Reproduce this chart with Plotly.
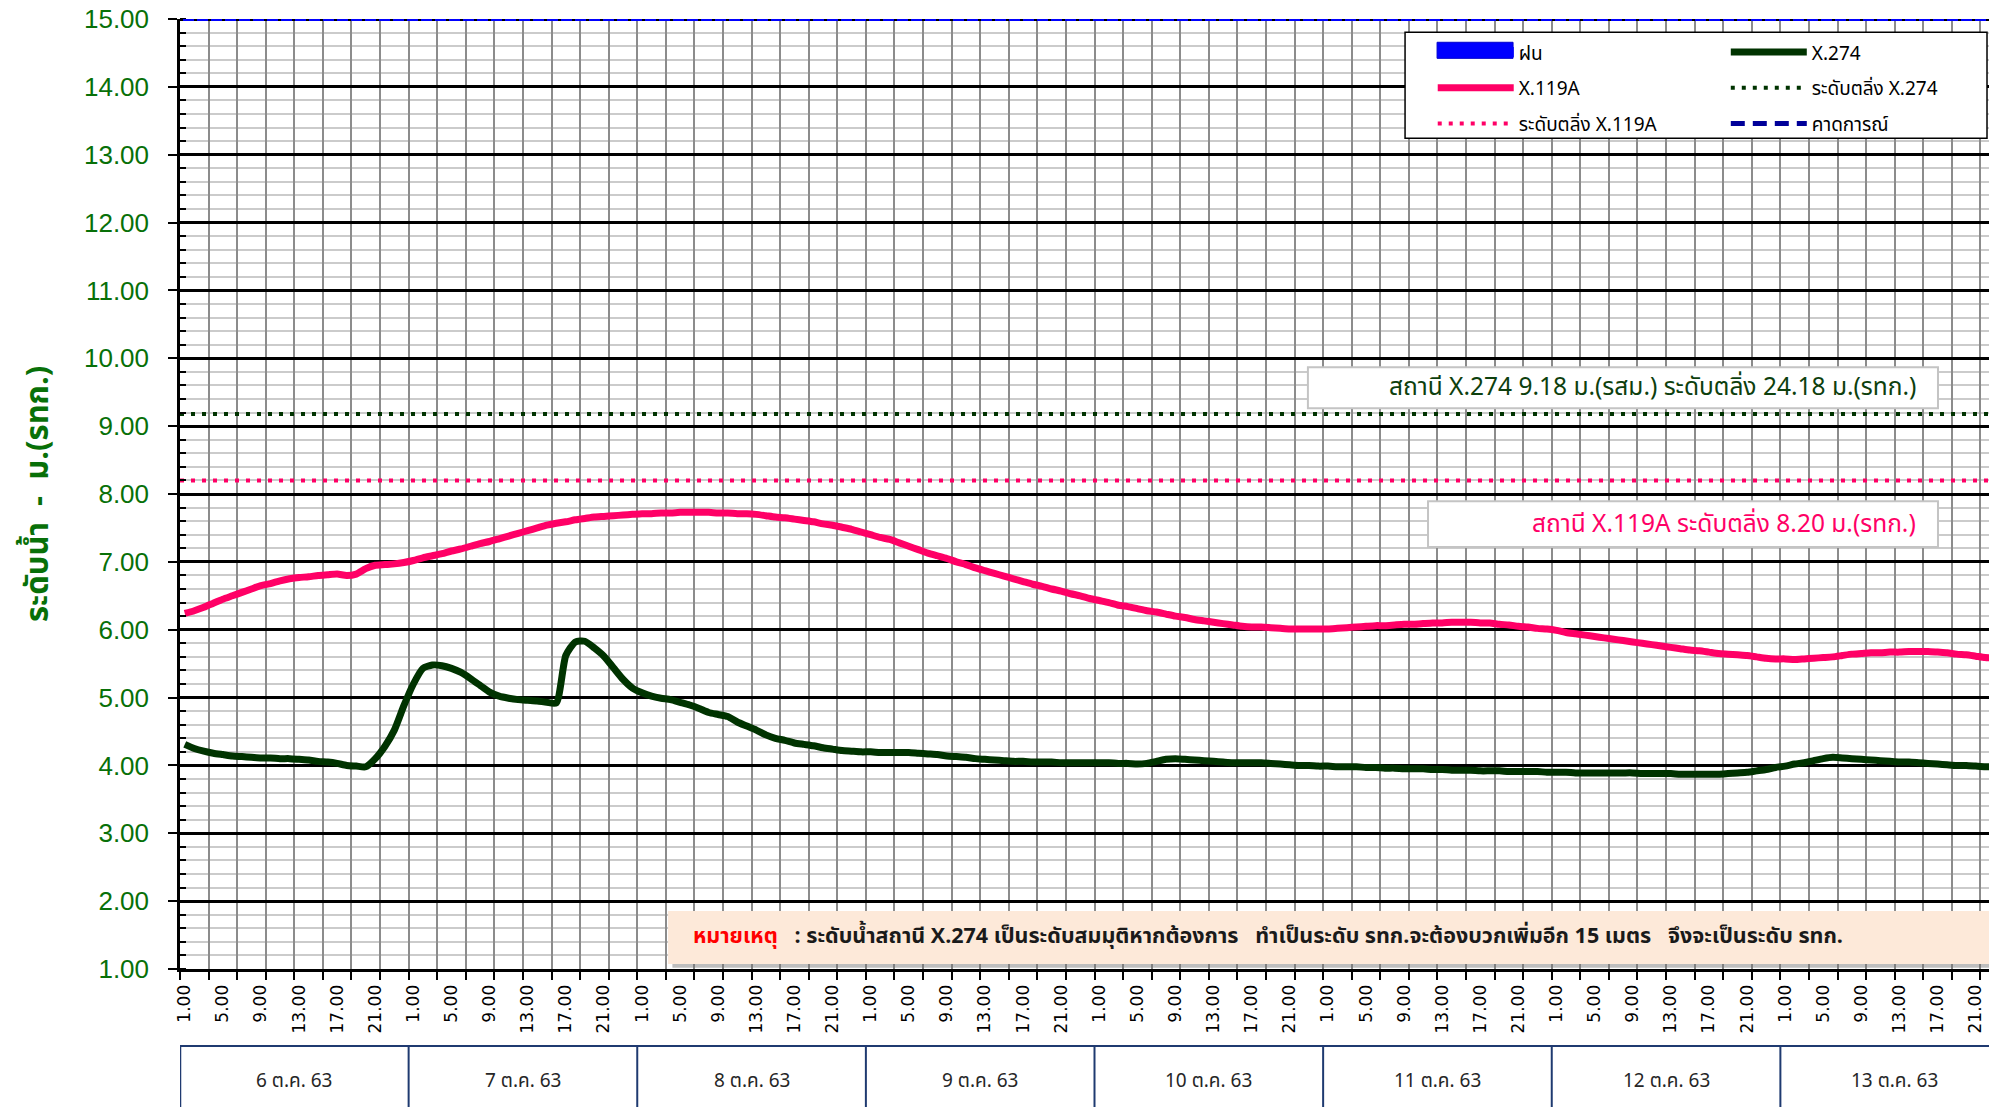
import plotly.graph_objects as go

# ---------------- data ----------------
days = ["6 ต.ค. 63", "7 ต.ค. 63", "8 ต.ค. 63", "9 ต.ค. 63",
        "10 ต.ค. 63", "11 ต.ค. 63", "12 ต.ค. 63", "13 ต.ค. 63"]
hours = ["1.00", "2.00", "3.00", "4.00", "5.00", "6.00", "7.00", "8.00",
         "9.00", "10.00", "11.00", "12.00", "13.00", "14.00", "15.00", "16.00",
         "17.00", "18.00", "19.00", "20.00", "21.00", "22.00", "23.00", "24.00"]
label_hours = ["1.00", "5.00", "9.00", "13.00", "17.00", "21.00"]

# water level X.119A (m. MSL), hourly
x119a = [
    6.24, 6.28, 6.33, 6.39, 6.45, 6.50, 6.55, 6.60, 6.65, 6.68, 6.72, 6.75,
    6.77, 6.78, 6.80, 6.81, 6.82, 6.80, 6.82, 6.90, 6.95, 6.96, 6.97, 6.99,
    7.02, 7.06, 7.09, 7.12, 7.16, 7.19, 7.23, 7.27, 7.30, 7.34, 7.38, 7.42,
    7.46, 7.50, 7.54, 7.57, 7.59, 7.62, 7.64, 7.66, 7.67, 7.68, 7.69, 7.70,
    7.71, 7.71, 7.72, 7.72, 7.73, 7.73, 7.73, 7.73, 7.72, 7.72, 7.71, 7.71,
    7.70, 7.68, 7.66, 7.65, 7.63, 7.61, 7.59, 7.56, 7.54, 7.51, 7.48, 7.44,
    7.40, 7.36, 7.33, 7.28, 7.23, 7.18, 7.13, 7.09, 7.05, 7.00, 6.96, 6.91,
    6.87, 6.83, 6.79, 6.75, 6.71, 6.67, 6.64, 6.60, 6.57, 6.53, 6.50, 6.46,
    6.43, 6.40, 6.36, 6.34, 6.31, 6.28, 6.26, 6.23, 6.20, 6.18, 6.15, 6.13,
    6.11, 6.09, 6.07, 6.05, 6.04, 6.04, 6.03, 6.02, 6.01, 6.01, 6.01, 6.01,
    6.01, 6.02, 6.03, 6.04, 6.05, 6.06, 6.06, 6.07, 6.08, 6.08, 6.09, 6.10,
    6.10, 6.11, 6.11, 6.11, 6.10, 6.10, 6.08, 6.07, 6.05, 6.04, 6.02, 6.01,
    5.99, 5.96, 5.94, 5.92, 5.90, 5.88, 5.86, 5.84, 5.82, 5.80, 5.78, 5.76,
    5.74, 5.72, 5.70, 5.69, 5.67, 5.65, 5.64, 5.63, 5.62, 5.60, 5.58, 5.57,
    5.57, 5.56, 5.57, 5.58, 5.59, 5.60, 5.62, 5.64, 5.65, 5.66, 5.66, 5.67,
    5.67, 5.68, 5.68, 5.68, 5.67, 5.66, 5.64, 5.63, 5.61, 5.59, 5.58, 5.57,
]

# water level X.274 (assumed datum), hourly
x274 = [
    4.31, 4.25, 4.21, 4.18, 4.16, 4.14, 4.13, 4.12, 4.11, 4.11, 4.10, 4.10,
    4.09, 4.08, 4.06, 4.05, 4.03, 4.00, 3.99, 3.98, 4.10, 4.28, 4.52, 4.88,
    5.20, 5.43, 5.48, 5.47, 5.43, 5.37, 5.28, 5.18, 5.08, 5.02, 4.99, 4.97,
    4.96, 4.95, 4.93, 4.92, 5.62, 5.82, 5.83, 5.73, 5.61, 5.44, 5.27, 5.14,
    5.07, 5.02, 4.99, 4.97, 4.93, 4.89, 4.84, 4.78, 4.75, 4.72, 4.64, 4.58,
    4.52, 4.45, 4.40, 4.37, 4.33, 4.31, 4.29, 4.26, 4.24, 4.22, 4.21, 4.20,
    4.20, 4.19, 4.19, 4.19, 4.19, 4.18, 4.17, 4.16, 4.14, 4.13, 4.12, 4.10,
    4.09, 4.08, 4.07, 4.06, 4.06, 4.05, 4.05, 4.05, 4.04, 4.04, 4.04, 4.04,
    4.04, 4.04, 4.03, 4.03, 4.02, 4.03, 4.06, 4.09, 4.10, 4.09, 4.08, 4.07,
    4.06, 4.05, 4.04, 4.04, 4.04, 4.04, 4.03, 4.02, 4.01, 4.00, 4.00, 3.99,
    3.99, 3.98, 3.98, 3.98, 3.97, 3.97, 3.96, 3.96, 3.95, 3.95, 3.95, 3.94,
    3.94, 3.93, 3.93, 3.93, 3.92, 3.92, 3.92, 3.91, 3.91, 3.91, 3.91, 3.90,
    3.90, 3.90, 3.89, 3.89, 3.89, 3.89, 3.89, 3.89, 3.89, 3.88, 3.88, 3.88,
    3.88, 3.87, 3.87, 3.87, 3.87, 3.87, 3.88, 3.89, 3.90, 3.92, 3.94, 3.97,
    3.99, 4.02, 4.04, 4.07, 4.10, 4.12, 4.11, 4.10, 4.09, 4.08, 4.07, 4.06,
    4.05, 4.05, 4.04, 4.03, 4.02, 4.01, 4.00, 4.00, 3.99, 3.98, 3.98, 3.97,
]

bank_x274 = 9.18
bank_x119a = 8.20
y_min, y_max = 1, 15

# ---------------- derived positions ----------------
n = len(days) * len(hours)
idx = list(range(n))
tickvals = [i for i in idx if hours[i % len(hours)] in label_hours]
ticktext = [hours[i % len(hours)] for i in tickvals]
edge = [-0.5, n - 0.5]
x_view = [-0.5, 189.4]

GREEN_TXT = "#087008"
PINK = "#ff0066"
DKGREEN = "#003300"
THAI = "Tahoma, 'Noto Sans Thai', Loma, 'Liberation Sans', sans-serif"

fig = go.Figure()

# column 1 of legend
fig.add_trace(go.Scatter(x=[None], y=[None], mode="lines", name="ฝน", legend="legend",
                         legendgroup="a", line=dict(color="#0000ff", width=16)))
fig.add_trace(go.Scatter(x=idx, y=x119a, mode="lines", name="X.119A", legend="legend",
                         legendgroup="b",
                         line=dict(color=PINK, width=7, shape="spline", smoothing=0.6)))
fig.add_trace(go.Scatter(x=edge, y=[bank_x119a] * 2, mode="lines", name="ระดับตลิ่ง X.119A",
                         legend="legend", legendgroup="c",
                         line=dict(color=PINK, width=4, dash="4px,7px")))
# column 2 of legend
fig.add_trace(go.Scatter(x=idx, y=x274, mode="lines", name="X.274", legend="legend2",
                         legendgroup="d",
                         line=dict(color=DKGREEN, width=7, shape="spline", smoothing=0.6)))
fig.add_trace(go.Scatter(x=edge, y=[bank_x274] * 2, mode="lines", name="ระดับตลิ่ง X.274",
                         legend="legend2", legendgroup="e",
                         line=dict(color=DKGREEN, width=4, dash="4px,7px")))
fig.add_trace(go.Scatter(x=[None], y=[None], mode="lines", name="คาดการณ์", legend="legend2",
                         legendgroup="f", line=dict(color="#000099", width=5, dash="14px,8px")))
# carrier for the hour-label axis
fig.add_trace(go.Scatter(x=[None], y=[None], xaxis="x2", showlegend=False, hoverinfo="skip"))

shapes = []
# top border line (blue with black dots)
shapes.append(dict(type="line", xref="x", yref="y", x0=edge[0], x1=edge[1], y0=y_max, y1=y_max,
                   line=dict(color="#0000ff", width=4), layer="above"))
shapes.append(dict(type="line", xref="x", yref="y", x0=edge[0], x1=edge[1], y0=y_max, y1=y_max,
                   line=dict(color="black", width=4, dash="3px,11px"), layer="above"))

# legend frame
shapes.append(dict(type="rect", xref="paper", yref="paper", x0=0.6772, x1=0.9989, y0=0.8745, y1=0.986,
                   fillcolor="white", line=dict(color="black", width=1.5), layer="above"))
# rain legend swatch (block)
shapes.append(dict(type="rect", xref="paper", yref="paper", x0=0.6949, x1=0.7369, y0=0.9586, y1=0.9755,
                   fillcolor="#0000ff", line=dict(color="#0000cc", width=1), layer="above"))

# annotation boxes
shapes.append(dict(type="rect", xref="paper", yref="paper", x0=0.6235, x1=0.9718, y0=0.5903, y1=0.6335,
                   fillcolor="white", line=dict(color="#c4c4c4", width=2), layer="above"))
shapes.append(dict(type="rect", xref="paper", yref="paper", x0=0.6899, x1=0.9718, y0=0.4441, y1=0.4925,
                   fillcolor="white", line=dict(color="#c4c4c4", width=2), layer="above"))
# note box with shadow
shapes.append(dict(type="rect", xref="paper", yref="paper", x0=0.2722, x1=1.05, y0=0.0012, y1=0.0575,
                   fillcolor="rgba(110,110,110,0.45)", line=dict(width=0), layer="above"))
shapes.append(dict(type="rect", xref="paper", yref="paper", x0=0.2698, x1=1.05, y0=0.0053, y1=0.0610,
                   fillcolor="#fde9d9", line=dict(width=0), layer="above"))

# date table below the axis
shapes.append(dict(type="line", xref="x", yref="paper", x0=edge[0], x1=edge[1] + 5, y0=-0.081, y1=-0.081,
                   line=dict(color="#1f3a70", width=2)))
for d in range(len(days) + 1):
    xb = d * len(hours) - 0.5
    shapes.append(dict(type="line", xref="x", yref="paper", x0=xb, x1=xb, y0=-0.081, y1=-0.2,
                       line=dict(color="#1f3a70", width=2.5 if d == 0 else 2)))

annotations = []
for d, lab in enumerate(days):
    annotations.append(dict(x=d * len(hours) + (len(hours) - 1) / 2, xref="x", y=-0.118, yref="paper",
                            xanchor="center", yanchor="middle",
                            text=lab, showarrow=False, font=dict(family=THAI, size=19, color="#262626")))

annotations.append(dict(x=-0.0785, xref="paper", y=0.5, yref="paper", textangle=-90,
                        xanchor="center", yanchor="middle",
                        text="<b>ระดับน้ำ  -  ม.(รทก.)</b>", showarrow=False,
                        font=dict(family=THAI, size=31, color=GREEN_TXT)))

annotations.append(dict(x=0.9608, xref="paper", y=0.6119, yref="paper", xanchor="right", yanchor="middle",
                        text="สถานี X.274 9.18 ม.(รสม.) ระดับตลิ่ง 24.18 ม.(รทก.)", showarrow=False,
                        font=dict(family=THAI, size=24.5, color="#0d400d")))
annotations.append(dict(x=0.9608, xref="paper", y=0.4683, yref="paper", xanchor="right", yanchor="middle",
                        text="สถานี X.119A ระดับตลิ่ง 8.20 ม.(รทก.)", showarrow=False,
                        font=dict(family=THAI, size=24.5, color=PINK)))
annotations.append(dict(x=0.2825, xref="paper", y=0.0337, yref="paper", xanchor="left", yanchor="middle",
                        text="<b><span style='color:#ff0000'>หมายเหตุ</span>   : ระดับน้ำสถานี X.274 "
                             "เป็นระดับสมมุติหากต้องการ   ทำเป็นระดับ รทก.จะต้องบวกเพิ่มอีก 15 เมตร   "
                             "จึงจะเป็นระดับ รทก.</b>",
                        showarrow=False, font=dict(family=THAI, size=21.5, color="#1a1a1a")))

legend_common = dict(orientation="v", yanchor="top", xanchor="left",
                     bgcolor="rgba(0,0,0,0)", borderwidth=0,
                     font=dict(family=THAI, size=19, color="black"),
                     itemwidth=76, tracegroupgap=8, traceorder="grouped")

fig.update_layout(
    width=1989, height=1107,
    margin=dict(l=180, r=0, t=19, b=138),
    plot_bgcolor="white", paper_bgcolor="white",
    showlegend=True,
    legend=dict(x=0.6925, y=0.985, **legend_common),
    legend2=dict(x=0.8545, y=0.985, **legend_common),
    shapes=shapes,
    annotations=annotations,
    xaxis=dict(
        range=x_view, tickmode="linear", tick0=-0.5, dtick=3,
        ticks="outside", ticklen=8, tickcolor="black", tickwidth=1.5,
        showticklabels=False,
        showgrid=True, gridcolor="#8c8c8c", gridwidth=1.6, zeroline=False,
        showline=True, linecolor="black", linewidth=2.5,
    ),
    xaxis2=dict(
        overlaying="x", matches="x", anchor="y", side="bottom",
        range=x_view, tickmode="array", tickvals=tickvals, ticktext=ticktext,
        tickangle=-90, ticks="outside", ticklen=8, tickcolor="rgba(0,0,0,0)",
        tickfont=dict(family="DejaVu Sans", size=17, color="black"),
        showgrid=False, zeroline=False, showline=False,
    ),
    yaxis=dict(
        range=[y_min, y_max], tickmode="linear", tick0=y_min, dtick=1, tickformat=".2f",
        ticks="outside", ticklen=9, tickcolor="black", tickwidth=2, ticklabelstandoff=14,
        tickfont=dict(family="Liberation Sans", size=26, color=GREEN_TXT),
        showgrid=True, gridcolor="black", gridwidth=2.5, zeroline=False,
        showline=True, linecolor="black", linewidth=2.5,
        minor=dict(tickmode="linear", tick0=y_min, dtick=0.2, showgrid=True, gridcolor="#cbcbcb",
                   gridwidth=2, ticks="inside", ticklen=6, tickcolor="black", tickwidth=1.5),
    ),
)

fig.write_html("out.html", config={"displayModeBar": False},
               post_script="document.body.style.margin='0';document.body.style.overflow='hidden';")
